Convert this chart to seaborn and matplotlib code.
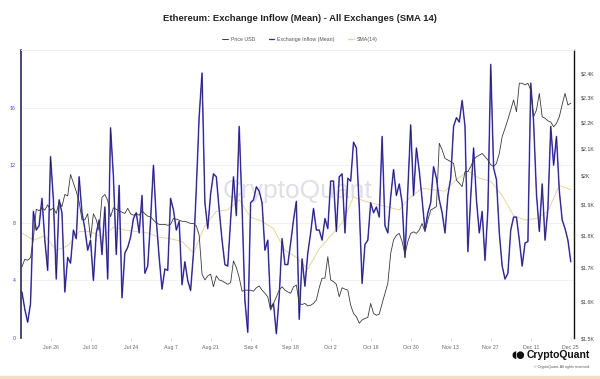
import matplotlib
matplotlib.use("Agg")
import matplotlib.pyplot as plt
import matplotlib.ticker as mticker
from matplotlib.lines import Line2D
from matplotlib.patches import Rectangle
import numpy as np
import pandas as pd
import seaborn as sns

# daily values, 2023-06-16 .. 2023-12-25
start = "2023-06-16"
inflow = [3.2, 2.0, 1.1, 2.4, 8.8, 7.5, 7.8, 9.7, 6.8, 4.7,
          12.6, 9.6, 4.1, 9.6, 8.7, 3.2, 5.6, 5.2, 7.5, 6.9,
          11.2, 8.7, 7.6, 6.1, 6.8, 4.0, 7.3, 8.2, 5.8, 9.1,
          4.1, 14.6, 11.2, 5.8, 10.6, 2.8, 5.9, 6.3, 7.0, 8.3,
          8.7, 7.3, 9.9, 4.5, 5.0, 8.2, 12.0, 8.2, 5.6, 3.4,
          4.8, 4.7, 9.7, 8.9, 7.5, 8.1, 3.7, 5.3, 4.0, 3.3,
          5.9, 10.4, 15.4, 18.4, 9.4, 7.6, 10.0, 11.4, 11.2, 8.9,
          6.8, 5.1, 5.0, 8.2, 11.2, 8.5, 14.7, 9.1, 2.6, 0.4,
          9.4, 9.6, 10.5, 10.2, 9.4, 6.1, 6.8, 2.1, 2.4, 0.3,
          2.9, 6.9, 5.1, 5.1, 6.6, 8.2, 9.5, 1.3,
          5.5, 3.6, 5.9, 7.3, 9.0, 7.5, 7.5, 6.8, 8.3, 7.6,
          10.9, 10.9, 7.4, 11.2, 11.4, 7.3, 11.1, 10.9, 13.6, 13.2,
          9.1, 3.8, 6.5, 6.8, 9.4, 8.7, 9.1, 8.4, 14.0, 7.8,
          7.3, 9.8, 11.7, 9.9, 10.7, 9.4, 5.6, 10.3, 14.8, 9.9,
          13.2, 11.6, 9.6, 7.5, 8.7, 9.4, 11.9, 11.1, 9.6, 8.7,
          7.3, 9.9, 11.1, 14.7, 15.3, 15.0, 16.5, 14.7, 6.0, 9.8,
          13.2, 9.6, 7.3, 8.8, 5.4, 8.9, 19.0, 11.8, 11.0, 7.3,
          5.0, 4.1, 4.5, 7.5, 8.4, 8.4, 6.8, 5.0, 6.6, 6.7,
          17.7, 15.0, 10.0, 7.4, 10.7, 6.8, 9.0, 14.7, 12.0, 14.0,
          10.2, 8.2, 7.6, 6.8, 5.3]

price = [1702, 1725, 1722, 1730, 1790, 1885, 1880, 1890, 1882, 1900,
         1882, 1890, 1871, 1910, 1894, 1935, 1930, 2005, 1975, 1945,
         1910, 1850, 1850, 1870, 1790, 1870, 1850, 1815, 1925, 1935,
         1915, 1860, 1890, 1885, 1880, 1875, 1871, 1888, 1870, 1865,
         1871, 1865, 1880, 1870, 1862, 1860, 1849, 1840, 1835, 1835,
         1835, 1832, 1835, 1855, 1852, 1849, 1845, 1845, 1842, 1838,
         1838, 1830, 1800, 1680, 1663, 1675, 1680, 1643, 1675, 1663,
         1660, 1655, 1650, 1655, 1720, 1700, 1670, 1630, 1633, 1633,
         1633, 1630, 1640, 1645, 1633, 1624, 1614, 1576, 1595, 1614,
         1633, 1643, 1633, 1628, 1624, 1643, 1648, 1595,
         1592, 1595, 1588, 1590, 1595, 1605, 1640, 1668, 1668, 1733,
         1663, 1658, 1650, 1614, 1640, 1636, 1633, 1590, 1567, 1558,
         1540, 1549, 1553, 1556, 1595, 1567, 1562, 1565, 1595, 1624,
         1653, 1743, 1785, 1800, 1806, 1780, 1740, 1780, 1806, 1811,
         1806, 1817, 1838, 1811, 1849, 1882, 1888, 1894, 2119, 2094,
         2063, 2057, 2051, 2045, 1985, 1974, 1962, 2015, 2015, 2033,
         2057, 2069, 2075, 2081, 2069, 2057, 2040, 2033, 2045, 2081,
         2144, 2176, 2210, 2248, 2288, 2241, 2357, 2357, 2350, 2357,
         2329, 2221, 2248, 2315, 2221, 2215, 2205, 2200, 2182, 2195,
         2221, 2270, 2315, 2268, 2275]

# SMA(14), read every 4 days
sma14 = [7.3, 6.8, 7.1, 6.1, 6.4, 7.4, 7.4, 7.0, 7.7, 7.5,
         7.4, 7.3, 7.0, 6.9, 6.7, 5.9, 7.8, 8.8, 8.9, 9.6,
         8.4, 8.1, 7.6, 6.1, 5.6, 4.8, 6.2, 7.1, 8.0, 9.8,
         9.5, 9.3, 9.1, 8.9, 9.8, 10.4, 10.3, 10.2, 11.0, 11.6,
         11.1, 10.9, 9.9, 8.5, 8.2, 8.3, 8.8, 10.6, 10.3]

inflow_ticks = [0, 4, 8, 12, 16]
price_ticks = [1500, 1600, 1700, 1800, 1900, 2000, 2100, 2200, 2300, 2400]
price_labels = ["$1.5K", "$1.6K", "$1.7K", "$1.8K", "$1.9K", "$2K",
                "$2.1K", "$2.2K", "$2.3K", "$2.4K"]
date_ticks = pd.date_range("2023-06-26", "2023-12-25", freq="14D")

dates = pd.date_range(start, periods=len(inflow), freq="D")
df = pd.DataFrame({"date": dates, "inflow": inflow, "price": price})
sma_df = pd.DataFrame({"date": pd.date_range(start, periods=len(sma14), freq="4D"),
                       "sma": sma14})

sns.set_theme(style="white")
plt.rcParams["font.family"] = ["Liberation Sans", "DejaVu Sans"]

c_inflow = "#1c1552"
c_glow = "#6c62e6"
c_price = "#3a3a3a"
c_sma = "#e8d39a"

fig = plt.figure(figsize=(6, 3.79), dpi=100)
ax = fig.add_axes([0.035, 0.108, 0.922, 0.760])

ax.text(0.5, 0.51, "CryptoQuant", transform=ax.transAxes, ha="center", va="center",
        fontsize=19, color="#dfdfe6", zorder=0)

sns.lineplot(data=sma_df, x="date", y="sma", ax=ax, color=c_sma, lw=0.7)
sns.lineplot(data=df, x="date", y="inflow", ax=ax, color=c_glow, lw=1.15)
sns.lineplot(data=df, x="date", y="inflow", ax=ax, color=c_inflow, lw=0.5)

ax.set_ylim(0, 20)
ax.set_yticks(inflow_ticks)
ax.set_yticklabels([str(t) for t in inflow_ticks])
ax.set_xlim(pd.Timestamp(start) - pd.Timedelta(hours=8),
            pd.Timestamp(start) + pd.Timedelta(days=193.2))
ax.set_xticks(date_ticks)
ax.set_xticklabels([f"{d:%b} {d.day}" for d in date_ticks])
ax.set_xlabel("")
ax.set_ylabel("")
ax.grid(axis="y", color="#f0f0f2", lw=0.6)
ax.tick_params(axis="y", length=0, pad=4, labelsize=3.8, labelcolor="#4a46c4")
ax.tick_params(axis="x", length=2, width=0.4, color="#cccccc", pad=3,
               labelsize=3.8, labelcolor="#666666", bottom=True)

ax2 = ax.twinx()
sns.lineplot(data=df, x="date", y="price", ax=ax2, color=c_price, lw=0.6)
ax2.set_yscale("log")
ax2.set_ylim(1500, 2500)
ax2.yaxis.set_major_locator(mticker.FixedLocator(price_ticks))
ax2.yaxis.set_major_formatter(mticker.FixedFormatter(price_labels))
ax2.yaxis.set_minor_locator(mticker.NullLocator())
ax2.set_ylabel("")
ax2.tick_params(axis="y", length=0, pad=5, labelsize=3.8, labelcolor="#444444")

for a in (ax, ax2):
    a.spines["top"].set_color("#eeeeee")
    a.spines["top"].set_linewidth(0.6)
    a.spines["bottom"].set_visible(False)
ax.spines["left"].set_color("#2b2a5a")
ax.spines["left"].set_linewidth(1.2)
ax.spines["right"].set_visible(False)
ax2.spines["left"].set_visible(False)
ax2.spines["right"].set_color("#111111")
ax2.spines["right"].set_linewidth(1.0)

fig.text(0.5, 0.952, "Ethereum: Exchange Inflow (Mean) - All Exchanges (SMA 14)",
         ha="center", va="center", fontsize=6.8, fontweight="bold", color="#222222")

handles = [Line2D([0], [0], color=c_price, lw=0.7),
           Line2D([0], [0], color="#2e2a8f", lw=0.9),
           Line2D([0], [0], color=c_sma, lw=0.9)]
fig.legend(handles, ["Price USD", "Exchange Inflow (Mean)", "SMA(14)"],
           loc="center", bbox_to_anchor=(0.5, 0.897), ncol=3, frameon=False,
           fontsize=3.8, handlelength=1.0, handletextpad=0.6, columnspacing=2.6,
           labelcolor="#555555")

fig.text(0.852, 0.063, "\u25d6\u25cf", ha="left", va="center", fontsize=7,
         color="#111111", family=["DejaVu Sans"])
fig.text(0.984, 0.063, "CryptoQuant", ha="right", va="center", fontsize=7.5,
         fontweight="bold", color="#111111")
fig.text(0.984, 0.031, "\u00a9 CryptoQuant. All rights reserved.", ha="right",
         va="center", fontsize=2.6, color="#555555")
fig.patches.append(Rectangle((0, 0), 1, 0.008, transform=fig.transFigure,
                             color="#f6dcc4", zorder=0))

fig.savefig("out.png", dpi=100, facecolor="white")
